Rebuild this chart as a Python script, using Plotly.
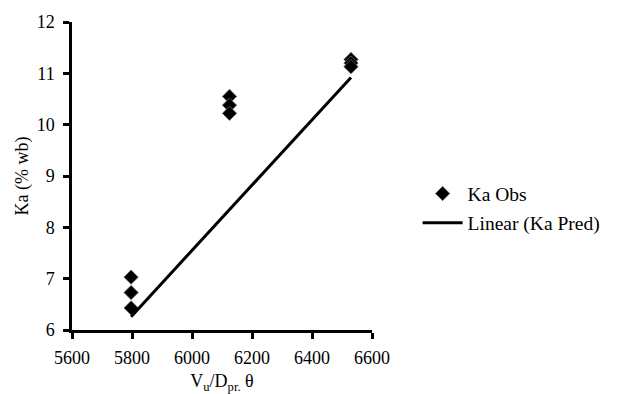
import plotly.graph_objects as go

# Data
x_obs = [5797, 5797, 5797, 6125, 6125, 6125, 6530, 6530, 6530]
ka_obs = [7.03, 6.73, 6.43, 10.55, 10.38, 10.22, 11.27, 11.20, 11.13]

x_pred = [5797, 6125, 6530]
ka_pred = [6.26, 8.35, 10.92]

x_ticks = [5600, 5800, 6000, 6200, 6400, 6600]
y_ticks = [6, 7, 8, 9, 10, 11, 12]

FONT = "Liberation Serif"

fig = go.Figure()
fig.add_trace(go.Scatter(
    x=x_obs, y=ka_obs, mode="markers", name="Ka Obs", legendgroup="a",
    marker=dict(symbol="diamond", size=11, color="#000000",
                line=dict(color="#666666", width=0.8)),
))
fig.add_trace(go.Scatter(
    x=x_pred, y=ka_pred, mode="lines", name="Linear (Ka Pred)", legendgroup="b",
    line=dict(color="#000000", width=3),
))

fig.update_layout(
    width=618, height=394,
    margin=dict(l=72, r=239, t=18, b=64),
    paper_bgcolor="white", plot_bgcolor="white",
    font=dict(family=FONT, size=18, color="#000000"),
    showlegend=True,
    legend=dict(x=1.152, xanchor="left", y=0.395, yanchor="middle",
                itemwidth=40, tracegroupgap=1,
                font=dict(family=FONT, size=19.5, color="#000000"),
                bgcolor="rgba(0,0,0,0)"),
    xaxis=dict(
        range=[5600, 6600], tickvals=x_ticks, ticktext=[str(v) for v in x_ticks],
        showgrid=False, zeroline=False, showline=True, linecolor="#000000", linewidth=2.5,
        ticks="outside", ticklen=6, tickwidth=2.5, tickcolor="#000000",
        ticklabelstandoff=4, automargin=False,
        tickfont=dict(family=FONT, size=18),
        title=dict(text="V<sub>u</sub>/D<sub>pr.</sub> θ",
                   font=dict(family=FONT, size=18)),
    ),
    yaxis=dict(
        range=[6, 12], tickvals=y_ticks, ticktext=[str(v) for v in y_ticks],
        showgrid=False, zeroline=False, showline=True, linecolor="#000000", linewidth=2.5,
        ticks="outside", ticklen=6, tickwidth=2.5, tickcolor="#000000",
        ticklabelstandoff=5, automargin=True,
        tickfont=dict(family=FONT, size=18),
        title=dict(text="Ka (% wb)", standoff=4, font=dict(family=FONT, size=18)),
    ),
)

fig.write_html("out.html", config={"displayModeBar": False},
               post_script="document.body.style.margin='0';")
